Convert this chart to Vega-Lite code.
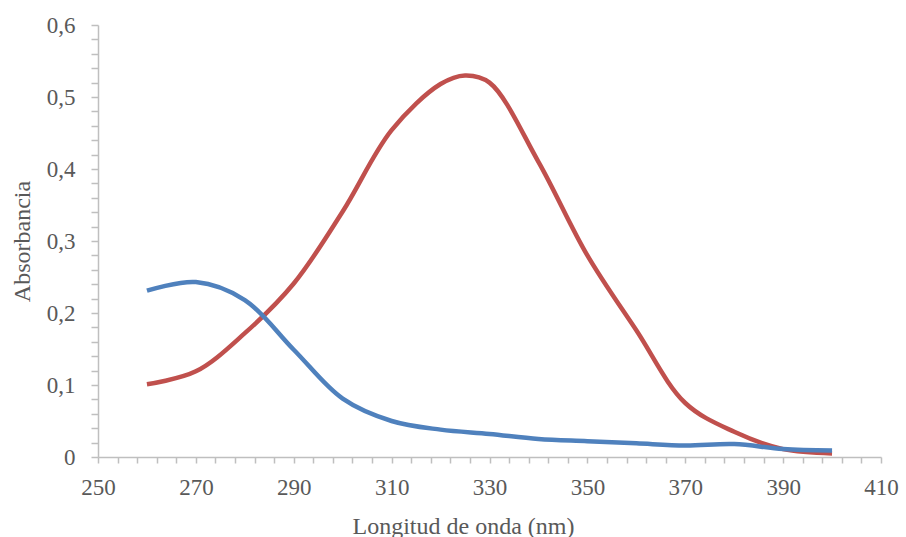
{
  "$schema": "https://vega.github.io/schema/vega-lite/v6.json",
  "autosize": "none",
  "width": 783,
  "height": 432,
  "padding": {"left": 98, "top": 25, "right": 25, "bottom": 80},
  "background": "white",
  "config": {"view": {"stroke": null}},
  "data": {"values": [
    {"wl": 260, "abs": 0.101, "serie": "B"},
    {"wl": 270, "abs": 0.119, "serie": "B"},
    {"wl": 280, "abs": 0.172, "serie": "B"},
    {"wl": 290, "abs": 0.241, "serie": "B"},
    {"wl": 300, "abs": 0.341, "serie": "B"},
    {"wl": 310, "abs": 0.454, "serie": "B"},
    {"wl": 320, "abs": 0.518, "serie": "B"},
    {"wl": 325, "abs": 0.530, "serie": "B"},
    {"wl": 330, "abs": 0.520, "serie": "B"},
    {"wl": 340, "abs": 0.410, "serie": "B"},
    {"wl": 350, "abs": 0.280, "serie": "B"},
    {"wl": 360, "abs": 0.176, "serie": "B"},
    {"wl": 370, "abs": 0.075, "serie": "B"},
    {"wl": 380, "abs": 0.035, "serie": "B"},
    {"wl": 390, "abs": 0.011, "serie": "B"},
    {"wl": 400, "abs": 0.005, "serie": "B"},
    {"wl": 260, "abs": 0.231, "serie": "A"},
    {"wl": 270, "abs": 0.243, "serie": "A"},
    {"wl": 280, "abs": 0.218, "serie": "A"},
    {"wl": 290, "abs": 0.149, "serie": "A"},
    {"wl": 300, "abs": 0.081, "serie": "A"},
    {"wl": 310, "abs": 0.050, "serie": "A"},
    {"wl": 320, "abs": 0.038, "serie": "A"},
    {"wl": 330, "abs": 0.032, "serie": "A"},
    {"wl": 340, "abs": 0.025, "serie": "A"},
    {"wl": 350, "abs": 0.022, "serie": "A"},
    {"wl": 360, "abs": 0.019, "serie": "A"},
    {"wl": 370, "abs": 0.016, "serie": "A"},
    {"wl": 380, "abs": 0.018, "serie": "A"},
    {"wl": 390, "abs": 0.011, "serie": "A"},
    {"wl": 400, "abs": 0.009, "serie": "A"}
  ]},
  "mark": {"type": "line", "interpolate": "catmull-rom", "strokeWidth": 4.5, "clip": false},
  "encoding": {
    "x": {
      "field": "wl", "type": "quantitative",
      "scale": {"domain": [250, 410], "nice": false, "zero": false},
      "axis": {
        "title": "Longitud de onda (nm)",
        "values": [250,254,258,262,266,270,274,278,282,286,290,294,298,302,306,310,314,318,322,326,330,334,338,342,346,350,354,358,362,366,370,374,378,382,386,390,394,398,402,406,410],
        "labelExpr": "datum.value % 20 == 10 ? datum.label : ''",
        "format": "d",
        "grid": false,
        "domainColor": "#bfbfbf", "domainWidth": 1.5,
        "tickColor": "#bfbfbf", "tickWidth": 1.5, "tickSize": 6,
        "labelFont": "Liberation Serif", "labelFontSize": 23, "labelColor": "#595959",
        "labelPadding": 13, "labelFlush": false, "labelOverlap": false,
        "titleFont": "Liberation Serif", "titleFontSize": 24, "titleFontWeight": "normal", "titleColor": "#595959",
        "titlePadding": 15, "titleX": 365
      }
    },
    "y": {
      "field": "abs", "type": "quantitative",
      "scale": {"domain": [0, 0.6], "nice": false},
      "axis": {
        "title": "Absorbancia",
        "values": [0,0.02,0.04,0.06,0.08,0.1,0.12,0.14,0.16,0.18,0.2,0.22,0.24,0.26,0.28,0.3,0.32,0.34,0.36,0.38,0.4,0.42,0.44,0.46,0.48,0.5,0.52,0.54,0.56,0.58,0.6],
        "labelExpr": "abs(round(datum.value*10) - datum.value*10) < 0.001 ? (datum.value == 0 ? '0' : replace(format(datum.value, '.1f'), '.', ',')) : ''",
        "grid": false,
        "domainColor": "#bfbfbf", "domainWidth": 1.5,
        "tickColor": "#bfbfbf", "tickWidth": 1.5, "tickSize": 7,
        "labelFont": "Liberation Serif", "labelFontSize": 23, "labelColor": "#595959",
        "labelPadding": 16, "labelFlush": false, "labelOverlap": false,
        "titleFont": "Liberation Serif", "titleFontSize": 24, "titleFontWeight": "normal", "titleColor": "#595959",
        "titlePadding": 12
      }
    },
    "color": {
      "field": "serie", "type": "nominal",
      "scale": {"domain": ["A", "B"], "range": ["#4F81BD", "#C0504D"]},
      "legend": null
    }
  }
}
